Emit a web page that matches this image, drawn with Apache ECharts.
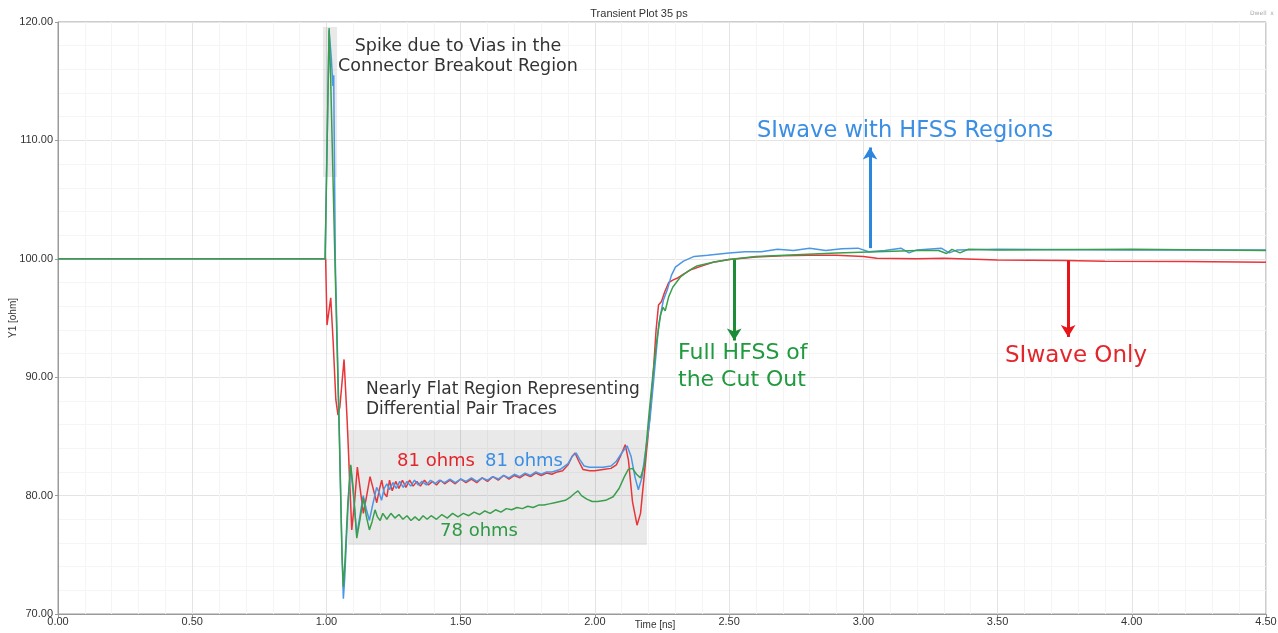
<!DOCTYPE html>
<html>
<head>
<meta charset="utf-8">
<script src="https://cdn.jsdelivr.net/npm/echarts@6/dist/echarts.min.js"></script>
<style>
  html, body { margin: 0; padding: 0; background: #fff; }
  #chart { width: 1278px; height: 633px; }
</style>
</head>
<body>
<div id="chart"></div>
<script>
// tick values
const xTicks = [0, 0.5, 1, 1.5, 2, 2.5, 3, 3.5, 4, 4.5];
const yTicks = [70, 80, 90, 100, 110, 120];

// SIwave Only (red)
const redPts = [
  [0, 100], [0.997, 100], [1.002, 94.4], [1.007, 95.2], [1.016, 96.7], [1.025, 93],
  [1.035, 88.1], [1.043, 86.8], [1.05, 87.5], [1.0656, 91.5], [1.077, 86.4], [1.0943, 77.1],
  [1.105, 79.5], [1.1151, 82.4], [1.126, 80.5], [1.1375, 78.5], [1.15, 80], [1.1624, 81.6],
  [1.175, 80.5], [1.1874, 79.4], [1.197, 80.5], [1.206, 81.3], [1.215, 80.2], [1.225, 79.9],
  [1.235, 81.3], [1.245, 80.4], [1.258, 81.2], [1.27, 80.6], [1.283, 81.3], [1.296, 80.7],
  [1.31, 81.3], [1.323, 80.8], [1.337, 81.2], [1.35, 80.8], [1.365, 81.3], [1.38, 80.9],
  [1.395, 81.2], [1.41, 80.9], [1.425, 81.3], [1.44, 81.0], [1.46, 81.3], [1.48, 81.0],
  [1.5, 81.4], [1.52, 81.1], [1.54, 81.4], [1.56, 81.1], [1.58, 81.5], [1.6, 81.2],
  [1.62, 81.6], [1.64, 81.3], [1.66, 81.7], [1.68, 81.4], [1.7, 81.7], [1.72, 81.5],
  [1.74, 81.8], [1.76, 81.6], [1.78, 81.9], [1.8, 81.7], [1.82, 81.9], [1.84, 81.8],
  [1.86, 82.0], [1.88, 82.1], [1.9, 82.6], [1.915, 83.3], [1.926, 83.6], [1.94, 82.9],
  [1.956, 82.2], [1.98, 82.1], [2.0, 82.1], [2.03, 82.2], [2.06, 82.3], [2.08, 82.6],
  [2.095, 83.3], [2.113, 84.3], [2.125, 83.0], [2.14, 79.5], [2.157, 77.5], [2.17, 78.5],
  [2.185, 82], [2.2, 85.5], [2.215, 89.5], [2.228, 94], [2.237, 96.1], [2.248, 96.4],
  [2.26, 97.2], [2.275, 98.0], [2.29, 98.2], [2.31, 98.4], [2.33, 98.7], [2.36, 99.1],
  [2.4, 99.4], [2.44, 99.7], [2.5, 99.95], [2.6, 100.15], [2.7, 100.25], [2.8, 100.3],
  [2.9, 100.3], [3.0, 100.2], [3.05, 100.05], [3.2, 100.0], [3.3, 100.05], [3.5, 99.9],
  [3.75, 99.85], [3.9, 99.8], [4.2, 99.78], [4.5, 99.7]
];

// SIwave with HFSS Regions (blue)
const bluePts = [
  [0, 100], [0.995, 100], [1.0097, 119.3], [1.018, 117], [1.024, 114.6], [1.027, 115.5],
  [1.033, 99.8], [1.048, 85.5], [1.058, 75], [1.063, 71.3], [1.068, 73], [1.08, 79],
  [1.09, 82.5], [1.1, 80.2], [1.113, 76.7], [1.125, 78.3], [1.137, 80], [1.149, 78.8],
  [1.16, 77.9], [1.173, 79.3], [1.187, 80.7], [1.197, 80.2], [1.205, 79.6], [1.215, 80.6],
  [1.225, 81.0], [1.235, 80.5], [1.248, 81.1], [1.26, 80.6], [1.273, 81.2], [1.286, 80.7],
  [1.3, 81.2], [1.314, 80.8], [1.328, 81.3], [1.342, 80.9], [1.356, 81.2], [1.372, 80.9],
  [1.388, 81.3], [1.404, 81.0], [1.42, 81.3], [1.44, 81.1], [1.46, 81.4], [1.48, 81.1],
  [1.5, 81.4], [1.52, 81.2], [1.54, 81.5], [1.56, 81.2], [1.58, 81.5], [1.6, 81.3],
  [1.62, 81.6], [1.64, 81.4], [1.66, 81.7], [1.68, 81.5], [1.7, 81.8], [1.72, 81.6],
  [1.74, 81.9], [1.76, 81.7], [1.78, 82.0], [1.8, 81.8], [1.82, 82.0], [1.84, 82.0],
  [1.87, 82.2], [1.9, 82.7], [1.915, 83.3], [1.93, 83.6], [1.945, 83.0], [1.96, 82.5],
  [1.98, 82.4], [2.0, 82.4], [2.03, 82.4], [2.06, 82.5], [2.08, 82.9], [2.1, 83.6],
  [2.12, 84.2], [2.135, 83.3], [2.15, 81.5], [2.162, 80.5], [2.175, 81.5], [2.19, 84],
  [2.205, 86.4], [2.22, 90], [2.238, 94.5], [2.255, 96.5], [2.27, 97.4], [2.285, 98.6],
  [2.3, 99.3], [2.33, 99.8], [2.37, 100.2], [2.42, 100.3], [2.5, 100.5], [2.56, 100.6],
  [2.62, 100.6], [2.68, 100.8], [2.74, 100.7], [2.8, 100.9], [2.86, 100.7], [2.92, 100.85],
  [2.98, 100.9], [3.02, 100.6], [3.08, 100.7], [3.14, 100.9], [3.17, 100.5], [3.2, 100.75],
  [3.29, 100.9], [3.32, 100.5], [3.35, 100.75], [3.5, 100.8], [4.0, 100.75], [4.5, 100.75]
];

// Full HFSS of the Cut Out (green)
const greenPts = [
  [0, 100], [0.995, 100], [1.01, 119.5], [1.016, 115], [1.032, 99.5], [1.048, 85],
  [1.058, 75], [1.063, 72.3], [1.068, 74], [1.08, 79.5], [1.0905, 82.6], [1.1, 80.5],
  [1.113, 76.4], [1.125, 78], [1.1375, 79.8], [1.149, 78.2], [1.16, 77.1], [1.17, 77.8],
  [1.181, 78.8], [1.19, 78.2], [1.2, 77.9], [1.21, 78.5], [1.225, 78.0], [1.24, 78.5],
  [1.255, 78.1], [1.27, 78.4], [1.285, 78.0], [1.3, 78.3], [1.315, 77.9], [1.33, 78.2],
  [1.345, 77.9], [1.36, 78.3], [1.375, 78.0], [1.39, 78.3], [1.41, 78.0], [1.43, 78.4],
  [1.45, 78.1], [1.47, 78.5], [1.49, 78.2], [1.51, 78.5], [1.53, 78.3], [1.55, 78.6],
  [1.57, 78.4], [1.59, 78.7], [1.61, 78.5], [1.63, 78.8], [1.65, 78.6], [1.67, 78.9],
  [1.69, 78.8], [1.71, 79.0], [1.73, 78.9], [1.75, 79.1], [1.77, 79.0], [1.79, 79.2],
  [1.81, 79.2], [1.83, 79.3], [1.85, 79.4], [1.87, 79.5], [1.89, 79.6], [1.91, 79.9],
  [1.925, 80.2], [1.937, 80.4], [1.95, 80.0], [1.97, 79.7], [1.99, 79.5], [2.01, 79.5],
  [2.04, 79.6], [2.068, 79.9], [2.09, 80.6], [2.11, 81.6], [2.124, 82.2], [2.14, 82.3],
  [2.155, 81.8], [2.17, 81.5], [2.185, 82.6], [2.2, 86.5], [2.215, 90], [2.23, 93],
  [2.245, 95.3], [2.254, 95.9], [2.262, 95.6], [2.275, 96.8], [2.29, 97.6], [2.32, 98.5],
  [2.35, 99.0], [2.38, 99.4], [2.44, 99.7], [2.5, 99.95], [2.6, 100.2], [2.75, 100.35],
  [2.9, 100.5], [3.05, 100.6], [3.2, 100.7], [3.28, 100.7], [3.31, 100.45], [3.33, 100.8],
  [3.36, 100.5], [3.39, 100.8], [3.5, 100.75], [4.0, 100.8], [4.5, 100.7]
];

const RED = '#e8353a';
const BLUE = '#4a97e6';
const GREEN = '#3b9e4c';

const chart = echarts.init(document.getElementById('chart'));

const txtFont = '"DejaVu Sans", Verdana, sans-serif';
const axisFont = '"Liberation Sans Narrow", "Liberation Sans", Arial, sans-serif';

// annotation text, placed in pixels
function note(text, x, y, size, color, align, font, rot) {
  return {
    type: 'text', x: x, y: y, silent: true, z: 100, rotation: rot || 0,
    style: {
      text: text, fill: color, font: size + 'px ' + (font || txtFont),
      stroke: 'transparent', lineWidth: 0,
      textAlign: align || 'left', textVerticalAlign: 'middle'
    }
  };
}

function arrow(x, y0, y1, color) {
  return [{ coord: [x, y0] }, { coord: [x, y1], lineStyle: { color: color, width: 3, type: 'solid' } }];
}

chart.setOption({
  animation: false,
  backgroundColor: '#fff',
  title: {
    text: 'Transient Plot 35 ps',
    left: 'center',
    top: 3,
    textStyle: { fontSize: 11, fontWeight: 'normal', color: '#333', fontFamily: axisFont }
  },
  grid: {
    left: 58, right: 12, top: 22, bottom: 19,
    show: true, borderColor: '#9a9a9a', borderWidth: 1,
    containLabel: false, outerBoundsMode: 'none'
  },
  xAxis: {
    type: 'value', min: 0, max: 4.5, interval: 0.5,
    axisLine: { lineStyle: { color: '#9a9a9a' } },
    axisTick: { show: true, length: 3, lineStyle: { color: '#9a9a9a' } },
    axisLabel: {
      formatter: v => v.toFixed(2), fontSize: 11, color: '#333', margin: 2,
      fontFamily: axisFont, showMaxLabel: true, showMinLabel: true
    },
    splitLine: { show: true, lineStyle: { color: '#e4e4e4' } },
    minorTick: { show: false, splitNumber: 5 },
    minorSplitLine: { show: true, lineStyle: { color: '#f5f5f5' } }
  },
  yAxis: {
    type: 'value', min: 70, max: 120, interval: 10,
    axisLine: { show: true, lineStyle: { color: '#9a9a9a' } },
    axisTick: { show: true, length: 3, lineStyle: { color: '#9a9a9a' } },
    axisLabel: {
      formatter: v => v.toFixed(2), fontSize: 11, color: '#333', margin: 5,
      fontFamily: axisFont
    },
    splitLine: { show: true, lineStyle: { color: '#e4e4e4' } },
    minorTick: { show: false, splitNumber: 5 },
    minorSplitLine: { show: true, lineStyle: { color: '#f5f5f5' } }
  },
  series: [
    {
      name: 'SIwave Only', type: 'line', data: redPts, showSymbol: false,
      lineStyle: { color: RED, width: 1.5 }, z: 3,
      markArea: {
        silent: true,
        itemStyle: { color: 'rgba(0,0,0,0.085)' },
        data: [
          [{ coord: [1.0805, 85.54] }, { coord: [2.194, 75.83] }],
          [{ coord: [0.987, 119.58] }, { coord: [1.0395, 106.9] }]
        ]
      },
      markLine: {
        silent: true, symbol: ['none', 'arrow'], symbolSize: [11, 12],
        label: { show: false },
        data: [arrow(3.763, 99.85, 93.4, '#e8141a')]
      }
    },
    {
      name: 'SIwave with HFSS Regions', type: 'line', data: bluePts, showSymbol: false,
      lineStyle: { color: BLUE, width: 1.5 }, z: 4,
      markLine: {
        silent: true, symbol: ['none', 'arrow'], symbolSize: [11, 12],
        label: { show: false },
        data: [arrow(3.025, 100.9, 109.4, '#2b86de')]
      }
    },
    {
      name: 'Full HFSS of the Cut Out', type: 'line', data: greenPts, showSymbol: false,
      lineStyle: { color: GREEN, width: 1.5 }, z: 5,
      markLine: {
        silent: true, symbol: ['none', 'arrow'], symbolSize: [11, 12],
        label: { show: false },
        data: [arrow(2.519, 99.95, 93.1, '#1c8c36')]
      }
    }
  ],
  graphic: [
    note('Y1 [ohm]', 13, 318, 10, '#333', 'center', axisFont, Math.PI / 2),
    note('Time [ns]', 655, 625, 10, '#333', 'center', axisFont),
    note('Spike due to Vias in the', 458, 46, 17.5, '#333', 'center'),
    note('Connector Breakout Region', 458, 66, 17.5, '#333', 'center'),
    note('Nearly Flat Region Representing', 366, 390, 17, '#333'),
    note('Differential Pair Traces', 366, 410, 17, '#333'),
    note('81 ohms', 397, 461, 18, '#e3262b'),
    note('81 ohms', 485, 461, 18, '#3a8ee4'),
    note('78 ohms', 440, 531, 18, '#2e9a45'),
    note('SIwave with HFSS Regions', 757, 131, 22.5, '#3a8ee4'),
    note('Full HFSS of', 678, 353, 22, '#1f9a3e'),
    note('the Cut Out', 678, 380, 22, '#1f9a3e'),
    note('SIwave Only', 1005, 356, 23, '#e3262b'),
    note('Dwell  x', 1250, 13, 6, '#aaa')
  ]
});
</script>
</body>
</html>
